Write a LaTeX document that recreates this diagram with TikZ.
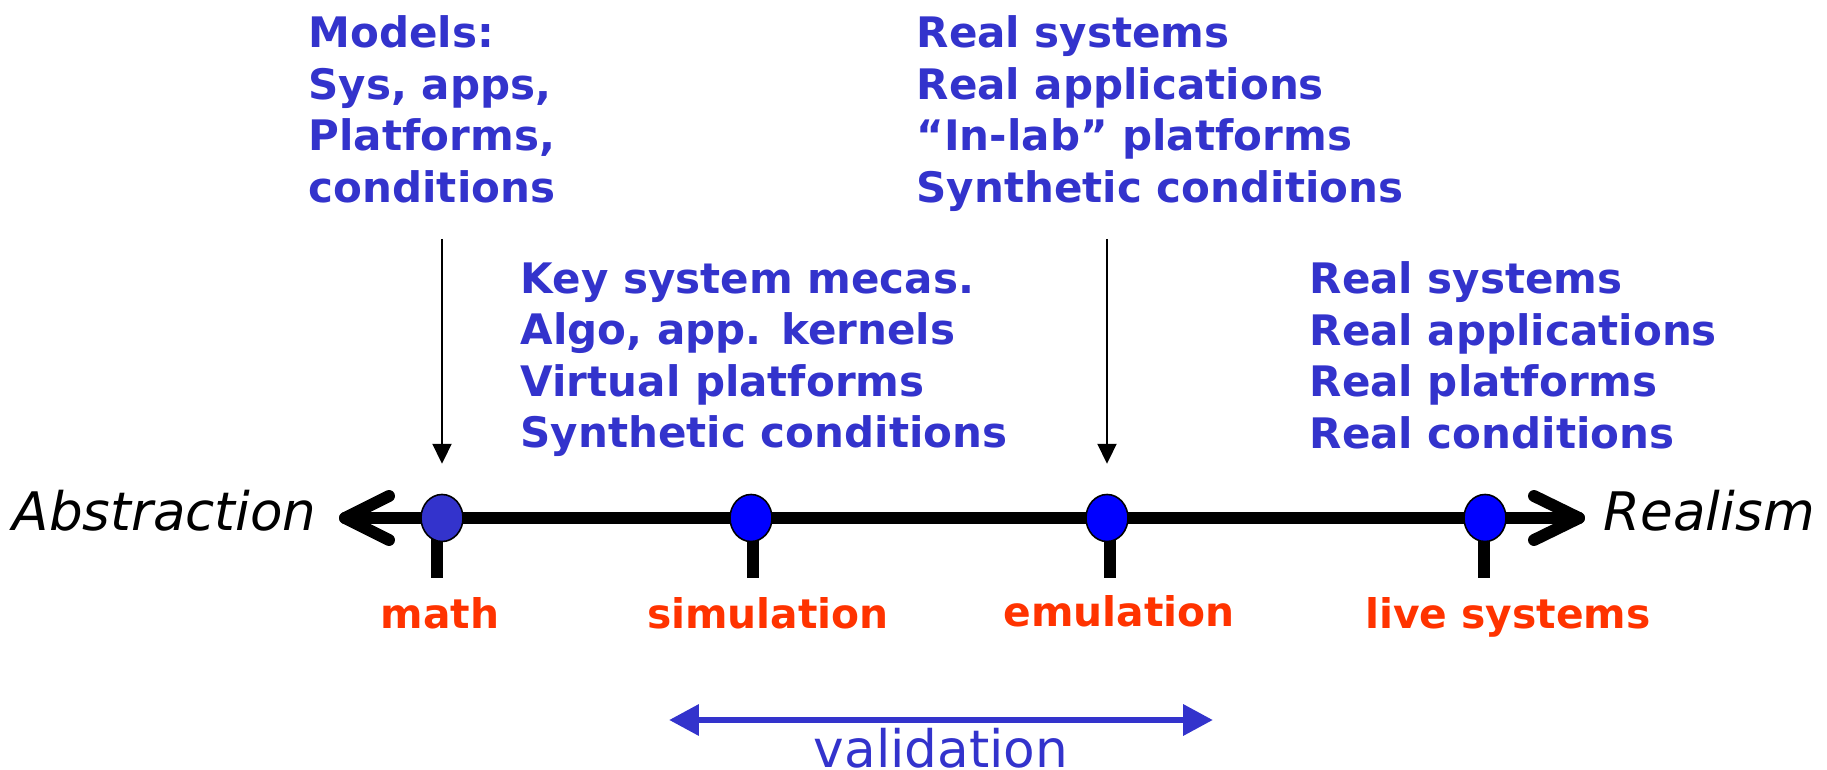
\documentclass[tikz,border=0pt]{standalone}
\usepackage{fontspec}
\setmainfont{DejaVu Sans}
\usetikzlibrary{arrows.meta,shapes.geometric}
\definecolor{labblue}{HTML}{3333CC}
\definecolor{dotblue}{HTML}{0000FF}
\definecolor{labred}{HTML}{FF3300}

\begin{document}
\begin{tikzpicture}[x=0.01cm,y=-0.01cm,
    axisdot/.style={ellipse,draw=black,line width=.45pt,inner sep=0pt,
      minimum width=.42cm,minimum height=.47cm},
    axistick/.style={line width=3.3pt},
    barb/.style={line width=3.4pt,line cap=round,line join=round},
    info/.style={anchor=north west,inner sep=0pt,align=left,text=labblue,
      font=\bfseries\fontsize{11.95pt}{14.65pt}\selectfont},
    kind/.style={anchor=base,inner sep=0pt,text=labred,
      font=\bfseries\fontsize{11.6pt}{14pt}\selectfont},
    side/.style={anchor=base west,inner sep=0pt,
      font=\itshape\fontsize{15.1pt}{18pt}\selectfont},
    pointer/.style={line width=.6pt,-{Triangle[length=5.7pt,width=5.4pt]},
      shorten >=8.5pt}]
  \useasboundingbox (0,0) rectangle (1827,770);
  \def\ax{518} % axis height
  \def\tk{578} % tick bottom

  % the axis with its two open heads
  \coordinate (L) at (345,\ax);
  \coordinate (R) at (1579,\ax);
  \draw[barb] (L) -- (R);
  \draw[barb] ([shift={(44,-22)}]L) -- (L) -- ([shift={(44,22)}]L);
  \draw[barb] ([shift={(-45,-22)}]R) -- (R) -- ([shift={(-45,22)}]R);

  \foreach \x in {437,753,1110,1484}
    \draw[axistick] (\x,\ax) -- (\x,\tk);

  \node[axisdot,fill=labblue] (math) at (442,\ax) {};
  \node[axisdot,fill=dotblue] (sim)  at (751,\ax) {};
  \node[axisdot,fill=dotblue] (emu)  at (1107,\ax) {};
  \node[axisdot,fill=dotblue] (live) at (1485,\ax) {};

  \node[side] (abstraction) at (12,530) {Abstraction};
  \node[side] (realism) at (1603,530) {Realism};

  \node[kind] (mathlbl) at (440,628) {math};
  \node[kind] (simlbl)  at (768,628) {simulation};
  \node[kind] (emulbl)  at (1119,626) {emulation};
  \node[kind] (livelbl) at (1508,628) {live systems};

  % what each approach works on
  \node[info] (models) at (308,15)
    {Models:\\Sys, apps,\\Platforms,\\conditions};
  \node[info] (inlab) at (916,15)
    {Real systems\\Real applications\\“In-lab” platforms\\Synthetic conditions};
  \node[info] (kernels) at (520,262)
    {Key system mecas.\\Algo, app. kernels\\Virtual platforms\\Synthetic conditions};
  \node[info] (reallive) at (1309,261)
    {Real systems\\Real applications\\Real platforms\\Real conditions};

  \coordinate (mathin) at (442,239);
  \coordinate (emuin) at (1107,239);
  \draw[pointer] (mathin) -- (math);
  \draw[pointer] (emuin) -- (emu);

  % validation range
  \coordinate (vl) at (669,720);
  \coordinate (vr) at (1213,720);
  \draw[labblue,line width=1.9pt,
    {Triangle[length=8.5pt,width=8.5pt]}-{Triangle[length=8.5pt,width=8.5pt]}]
    (vl) -- (vr);
  \node[anchor=base,inner sep=0pt,text=labblue,
    font=\fontsize{14.7pt}{17pt}\selectfont] (valid) at (941,767) {validation};
\end{tikzpicture}
\end{document}
